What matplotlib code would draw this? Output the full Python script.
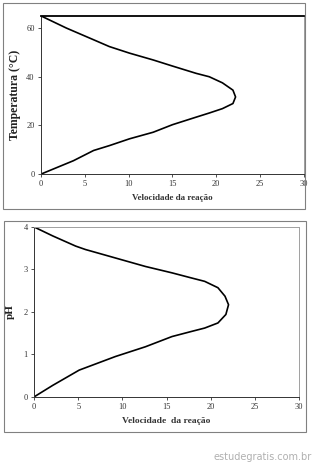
import matplotlib.pyplot as plt
from matplotlib.patches import Rectangle

# temperature curve (velocity, temperature)
vel_temp = [0, 3.7, 6.0, 7.8, 10.1, 12.8, 15.0, 17.7, 19.2, 20.7, 21.9, 22.2, 21.9, 20.7, 19.2, 17.7, 15.0, 12.8, 10.1, 7.8, 6.0, 2.9, 0]
temp = [0, 5.5, 9.7, 11.7, 14.5, 17.2, 20.3, 23.4, 25.1, 26.9, 29, 31.7, 34.5, 37.5, 40, 41.4, 44.4, 46.9, 49.7, 52.4, 55.2, 60, 65]

# pH curve (velocity, pH)
vel_ph = [0, 2.1, 5.1, 9.2, 12.6, 15.6, 17.8, 19.3, 20.8, 21.7, 22.0, 21.6, 20.8, 19.3, 17.8, 15.6, 12.6, 9.2, 5.8, 4.7, 2.1, 0]
ph = [0, 0.27, 0.63, 0.95, 1.18, 1.42, 1.54, 1.62, 1.74, 1.94, 2.17, 2.37, 2.57, 2.72, 2.80, 2.92, 3.07, 3.27, 3.47, 3.55, 3.79, 4]

fig = plt.figure(figsize=(3.13, 4.68), dpi=100)

# outer frames
fig.patches.append(Rectangle((0.0096, 0.553), 0.965, 0.440, transform=fig.transFigure,
                             fill=False, edgecolor='#808080', lw=0.8))
fig.patches.append(Rectangle((0.0128, 0.077), 0.965, 0.451, transform=fig.transFigure,
                             fill=False, edgecolor='#808080', lw=0.8))

serif = 'Liberation Serif'

def style(ax):
    for s in ['top', 'right']:
        ax.spines[s].set_color('#a0a0a0')
        ax.spines[s].set_linewidth(0.7)
    for s in ['left', 'bottom']:
        ax.spines[s].set_color('#333333')
        ax.spines[s].set_linewidth(0.7)
    ax.tick_params(direction='out', length=2.5, width=0.6, labelsize=6,
                   colors='#333333', pad=2)
    for lab in ax.get_xticklabels() + ax.get_yticklabels():
        lab.set_fontfamily(serif)

ax1 = fig.add_axes([0.131, 0.628, 0.840, 0.338])
ax1.plot(vel_temp, temp, color='black', lw=1.2, solid_joinstyle='round')
ax1.set_xlim(0, 30)
ax1.set_ylim(0, 65)
ax1.set_xticks([0, 5, 10, 15, 20, 25, 30])
ax1.set_yticks([0, 20, 40, 60])
style(ax1)
ax1.spines['top'].set_color('black')
ax1.spines['top'].set_linewidth(1.3)
ax1.set_xlabel('Velocidade da reação', fontfamily=serif, fontsize=6.5, fontweight='bold',
               color='#333333', labelpad=4)
ax1.set_ylabel('Temperatura (°C)', fontfamily=serif, fontsize=8.5, fontweight='bold',
               color='#222222', labelpad=4)

ax2 = fig.add_axes([0.109, 0.152, 0.847, 0.363])
ax2.plot(vel_ph, ph, color='black', lw=1.2, solid_joinstyle='round')
ax2.set_xlim(0, 30)
ax2.set_ylim(0, 4)
ax2.set_xticks([0, 5, 10, 15, 20, 25, 30])
ax2.set_yticks([0, 1, 2, 3, 4])
style(ax2)
ax2.set_xlabel('Velocidade  da reação', fontfamily=serif, fontsize=6.8, fontweight='bold',
               color='#333333', labelpad=4)
ax2.set_ylabel('pH', fontfamily=serif, fontsize=8, fontweight='bold',
               color='#222222', labelpad=6)

fig.text(0.997, 0.012, 'estudegratis.com.br', ha='right', va='bottom',
         fontsize=7, color='#b0b0b0', fontfamily='DejaVu Sans')

fig.savefig('out.png', dpi=100)
